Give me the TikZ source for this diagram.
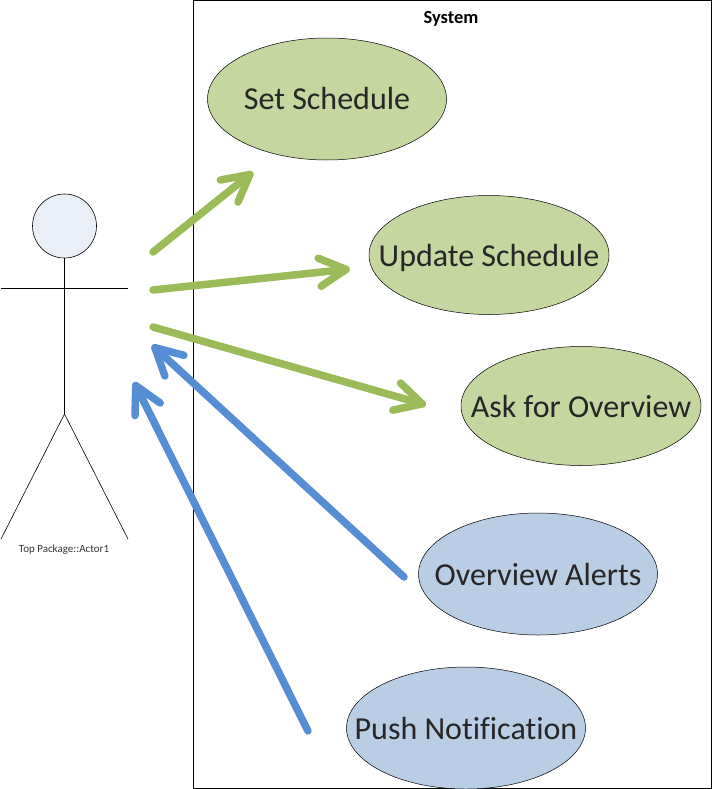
\documentclass[tikz,border=0pt]{standalone}
\usepackage{fontspec}
\setmainfont[Ligatures=CommonOff]{Carlito}
\usetikzlibrary{calc,shapes.geometric}
\definecolor{ugreen}{HTML}{C5D6A0}
\definecolor{ublue}{HTML}{B9CDE4}
\definecolor{agreen}{HTML}{9BBB59}
\definecolor{ablue}{HTML}{558ED5}
\definecolor{headc}{HTML}{E9EEF7}
\newcommand{\uclabel}[1]{\makebox[0pt]{\raisebox{-11pt}[0pt][0pt]{#1}}}
\newcommand{\fatarrow}[3]{%
  \coordinate (#1#2tip) at ($(#2)!4pt!(#1)$);
  \draw[#3] (#1) -- (#1#2tip);
  \draw[#3] ($(#1#2tip)!30pt!28:(#1)$) -- (#1#2tip) -- ($(#1#2tip)!30pt!-28:(#1)$);
}
\tikzset{
 px/.style={x=1pt,y=-1pt},
 usecase/.style={draw=black,line width=0.5pt,ellipse,text=black!85,font=\fontsize{32}{36}\selectfont,inner sep=0pt},
 gcase/.style={usecase,fill=ugreen},
 bcase/.style={usecase,fill=ublue},
 fat/.style={line width=7.5pt,line cap=round,line join=round},
 garr/.style={fat,draw=agreen},
 barr/.style={fat,draw=ablue},
 stick/.style={draw=black,line width=0.6pt}
}
\begin{document}
\begin{tikzpicture}[px]
\useasboundingbox (0,0) rectangle (712,789);
\node[draw=black,line width=0.7pt,minimum width=518pt,minimum height=788pt,anchor=north west,inner sep=0pt] (sys) at (192.5,0) {};
\node[font=\bfseries\fontsize{18.5}{20}\selectfont] (systitle) at (451,19) {System};
\node[gcase,minimum width=239pt,minimum height=122pt] (a) at (327,99) {\uclabel{Set Schedule}};
\node[gcase,minimum width=240pt,minimum height=119pt] (b) at (489,255) {\uclabel{Update Schedule}};
\node[gcase,minimum width=240pt,minimum height=119pt] (c) at (581,406) {\uclabel{Ask for Overview}};
\node[bcase,minimum width=239pt,minimum height=122pt] (d) at (538,574) {\uclabel{Overview Alerts}};
\node[bcase,minimum width=239pt,minimum height=122pt] (e) at (466,728) {\uclabel{Push Notification}};
\node[draw=black,fill=headc,line width=0.6pt,circle,minimum size=64pt,inner sep=0pt] (head) at (64.5,226) {};
\coordinate (hip) at (64.5,414);
\coordinate (armL) at (1,288);
\coordinate (armR) at (128,288);
\coordinate (footL) at (1,539);
\coordinate (footR) at (128,539);
\draw[stick] (head) -- (hip);
\draw[stick] (armL) -- (armR);
\draw[stick] (footL) -- (hip) -- (footR);
\node[font=\fontsize{11}{12}\selectfont,text=black!80] (actor) at (64,550) {Top Package::Actor1};
\coordinate (g1s) at (153,252); \coordinate (g1e) at (253,172);
\coordinate (g2s) at (153,290); \coordinate (g2e) at (350,269);
\coordinate (g3s) at (153,327); \coordinate (g3e) at (426,405);
\coordinate (b1s) at (404,577); \coordinate (b1e) at (152,345);
\coordinate (b2s) at (308,731); \coordinate (b2e) at (134,382);
\fatarrow{g1s}{g1e}{garr}
\fatarrow{g2s}{g2e}{garr}
\fatarrow{g3s}{g3e}{garr}
\fatarrow{b1s}{b1e}{barr}
\fatarrow{b2s}{b2e}{barr}
\end{tikzpicture}
\end{document}
